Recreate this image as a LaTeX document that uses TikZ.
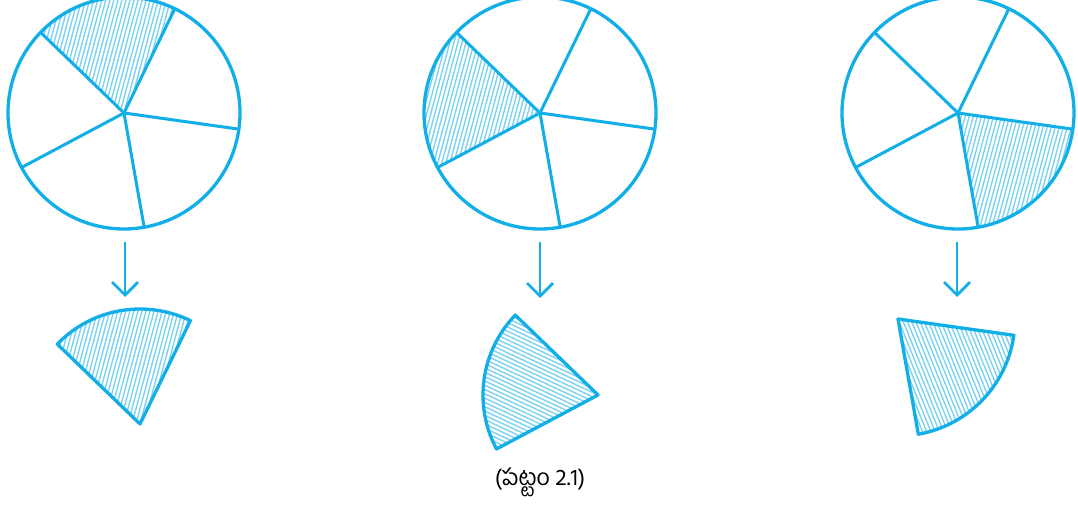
\documentclass[tikz,border=0pt]{standalone}
\usepackage{fontspec}
\newfontfamily\telugufont[Script=Telugu]{Hind Guntur}
\usetikzlibrary{arrows.meta,calc}
\definecolor{pcyan}{RGB}{18,174,232}
\tikzset{
  outline/.style={draw=pcyan, line width=3.3pt, line join=round},
  spoke/.style={draw=pcyan, line width=3pt},
  hatchline/.style={draw=pcyan!55, line width=1.4pt},
  downarrow/.style={draw=pcyan, line width=2.8pt, -{Straight Barb[length=13pt,width=26pt]}},
}
\newcommand\hatchsec[5]{%
  \begin{scope}
    \clip (#1) -- ++(#2:#4) arc[start angle=#2, end angle=#3, radius=#4] -- cycle;
    \begin{scope}[shift={(#1)}, rotate=#5]
      \foreach \k in {-34,...,34} \draw[hatchline] (-140,\k*3.9) -- (140,\k*3.9);
    \end{scope}
  \end{scope}}
\newcommand\pie[3]{% center, shaded start angle, hatch angle
  \hatchsec{#1}{#2}{#2+72}{116}{#3}
  \draw[outline] (#1) circle[radius=116];
  \foreach \a in {-8,64,136,208,280} \draw[spoke] (#1) -- ++(\a:116);}
\newcommand\piece[4]{% apex, start angle, hatch angle, radius
  \hatchsec{#1}{#2}{#2+72}{#4}{#3}
  \draw[outline] (#1) -- ++(#2:#4) arc[start angle=#2, end angle=#2+72, radius=#4] -- cycle;}
\begin{document}
\begin{tikzpicture}[x=1pt,y=1pt]
  \useasboundingbox (0,0) rectangle (1078,-510);
  \coordinate (c1) at (124,-113);
  \coordinate (c2) at (540,-113);
  \coordinate (c3) at (958,-113);
  \pie{c1}{64}{75}
  \pie{c2}{136}{75}
  \pie{c3}{-80}{75}
  \coordinate (a1s) at (125,-242); \coordinate (a1e) at (125,-297);
  \coordinate (a2s) at (540,-242); \coordinate (a2e) at (540,-298);
  \coordinate (a3s) at (957,-242); \coordinate (a3e) at (957,-297);
  \draw[downarrow] (a1s) -- (a1e);
  \draw[downarrow] (a2s) -- (a2e);
  \draw[downarrow] (a3s) -- (a3e);
  \coordinate (p1) at (140,-424);
  \coordinate (p2) at (598,-395);
  \coordinate (p3) at (898,-319);
  \piece{p1}{64}{75}{115}
  \piece{p2}{136}{-25}{115}
  \piece{p3}{-80}{112}{117}
  \node[font=\telugufont\fontsize{23}{26}\selectfont, inner sep=0pt] (cap) at (540,-482) {(పట్టం 2.1)};
\end{tikzpicture}
\end{document}
